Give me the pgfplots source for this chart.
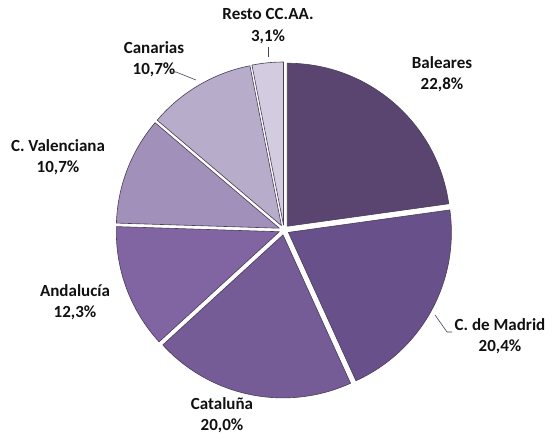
\documentclass[border=0pt]{standalone}
\usepackage{pgfplots}
\pgfplotsset{compat=1.18}
\usepackage{pgfplotstable}
\usepackage{fontspec}
\setmainfont{Carlito}
\definecolor{col0}{HTML}{5A4571}
\definecolor{col1}{HTML}{68508A}
\definecolor{col2}{HTML}{765C97}
\definecolor{col3}{HTML}{8165A3}
\definecolor{col4}{HTML}{A190BA}
\definecolor{col5}{HTML}{B8ACCB}
\definecolor{col6}{HTML}{D3CBDF}
\definecolor{edgecol}{HTML}{4A3D58}
\definecolor{txt}{HTML}{111111}
\pgfplotstableread[col sep=comma]{
name,value
Baleares,22.8
C. de Madrid,20.4
Cataluña,20.0
Andalucía,12.3
C. Valenciana,10.7
Canarias,10.7
Resto CC.AA.,3.1
}\piedata
\begin{document}
\begin{tikzpicture}
\begin{axis}[x=1bp,y=1bp,xmin=0,xmax=553,ymin=0,ymax=437,hide axis,clip=false,scale only axis]
\path (axis cs:0,0) rectangle (axis cs:553,437);
\def\cum{90}
\pgfplotsforeachungrouped \i in {0,...,6}{%
  \pgfplotstablegetelem{\i}{value}\of\piedata
  \let\v=\pgfplotsretval
  \pgfmathsetmacro\a{\cum}%
  \pgfmathsetmacro\b{\cum-3.6*\v}%
  \pgfmathsetmacro\m{(\a+\b)/2}%
  \edef\temp{\noexpand\fill[fill=col\i,draw=edgecol,line width=0.6bp,line join=round] ([shift={(\m:5bp)}]axis cs:284,207) -- ++(\a:163bp) arc[start angle=\a,end angle=\b,radius=163bp] -- cycle;}%
  \temp
  \let\cum\b
}
\tikzset{lab/.style={align=center,text=txt,inner sep=0pt,font=\fontsize{17bp}{21.5bp}\selectfont\bfseries}}
\node[lab] at (axis cs:268,411) {Resto CC.AA.\\3,1\%};
\node[lab] at (axis cs:442,363) {Baleares\\22,8\%};
\node[lab] at (axis cs:500,101) {C. de Madrid\\20,4\%};
\node[lab] at (axis cs:222,22) {Cataluña\\20,0\%};
\node[lab] at (axis cs:75,135) {Andalucía\\12,3\%};
\node[lab] at (axis cs:58,280) {C. Valenciana\\10,7\%};
\node[lab] at (axis cs:154,378) {Canarias\\10,7\%};
\draw[edgecol,line width=0.6bp] (axis cs:268,390) -- (axis cs:268,380);
\draw[edgecol,line width=0.6bp] (axis cs:171,365) -- (axis cs:176,365) -- (axis cs:196,357);
\draw[edgecol,line width=0.6bp] (axis cs:435,122) -- (axis cs:447,105) -- (axis cs:452,105);
\end{axis}
\end{tikzpicture}
\end{document}
